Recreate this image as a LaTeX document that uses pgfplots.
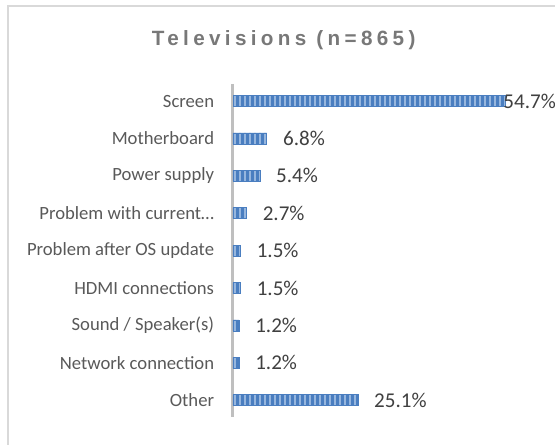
\documentclass[border=0pt]{standalone}
\usepackage{pgfplots}
\pgfplotsset{compat=1.18}
\usepackage{fontspec}
\setmainfont{Carlito}
\newfontfamily\titlefont[LetterSpace=21]{Liberation Sans Bold}
\usetikzlibrary{patterns.meta}
\definecolor{barblue}{RGB}{74,126,192}
\definecolor{stripe}{RGB}{150,182,222}
\definecolor{axisgray}{RGB}{191,191,191}
\definecolor{framegray}{RGB}{217,217,217}
\definecolor{labelgray}{RGB}{89,89,89}
\definecolor{valgray}{RGB}{64,64,64}
\definecolor{titlegray}{RGB}{120,120,120}

\begin{document}
\begin{tikzpicture}
% 1px = 0.75pt, origin at (0, Screen) = px (233,101)
\useasboundingbox (-174.75pt,75.75pt) rectangle (241.5pt,-257.25pt);
\draw[framegray, line width=0.8pt] (-168.75pt,-300pt) -- (-168.75pt,71.25pt) -- (300pt,71.25pt);
\node[font=\titlefont\fontsize{15.5}{18}\selectfont, text=titlegray] at (38pt,45.75pt) {Televisions (n=865)};

\begin{axis}[
    at={(0,0)}, anchor=origin,
    x=3.731pt, y=28.05pt,
    y dir=reverse,
    xbar, bar width=8.25pt, bar shift=0pt,
    xmin=0, xmax=60,
    ymin=-0.46, ymax=8.46,
    axis x line=none,
    axis y line=left,
    y axis line style={-, draw=axisgray, line width=2.25pt},
    ytick={0,...,8},
    yticklabels={Screen, Motherboard, Power supply, Problem with current\ldots, Problem after OS update, HDMI connections, Sound / Speaker(s), Network connection, Other},
    major tick length=0pt,
    yticklabel style={font=\fontsize{14}{16}\selectfont, text=labelgray, anchor=east, inner sep=0pt, xshift=-14pt},
    /pgf/number format/assume math mode=true,
    clip=false,
    point meta=x,
    nodes near coords={\pgfmathprintnumber[fixed,fixed zerofill,precision=1]{\pgfplotspointmeta}\%},
    nodes near coords style={font=\fontsize{15.8}{18}\selectfont, text=valgray, anchor=west, inner sep=0pt},
    barstyle/.style={
        fill=barblue, draw=barblue, line width=0.5pt,
        postaction={pattern={Lines[angle=90,distance=3.75pt,line width=1.4pt]}, pattern color=stripe}
    },
]
\addplot[barstyle, nodes near coords style={xshift=-1.5pt}] coordinates {(54.7,0)};
\addplot[barstyle, nodes near coords style={xshift=12pt}] coordinates {
    (6.8,1) (5.4,2) (2.7,3) (1.5,4) (1.5,5) (1.2,6) (1.2,7) (25.1,8)
};
\end{axis}
\end{tikzpicture}
\end{document}
